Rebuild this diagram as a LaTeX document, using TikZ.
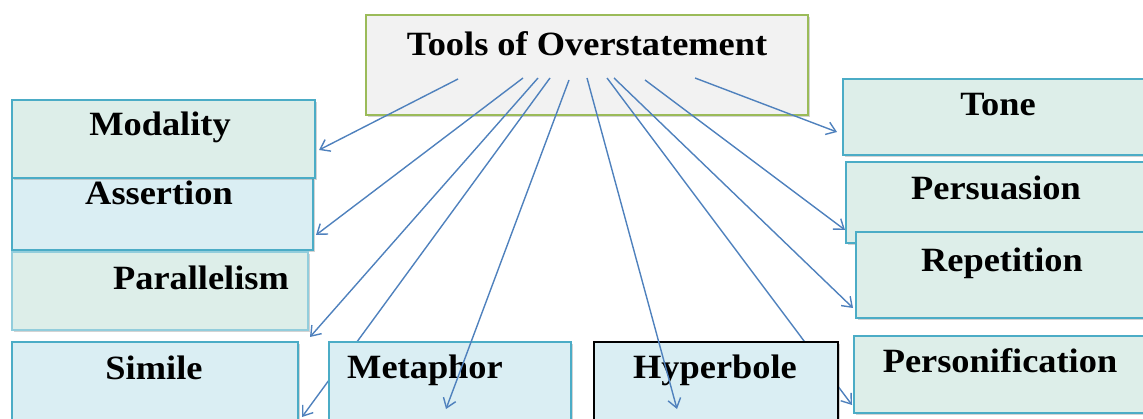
\documentclass[tikz,border=0pt]{standalone}
\usepackage{fontspec}
\setmainfont{Liberation Serif}[FakeStretch=1.07]
\usetikzlibrary{arrows.meta,shadows}
\definecolor{titlefill}{HTML}{F2F2F2}
\definecolor{titledraw}{HTML}{9BBB59}
\definecolor{greenfill}{HTML}{DDEEE9}
\definecolor{bluefill}{HTML}{DAEEF3}
\definecolor{boxdraw}{HTML}{4BACC6}
\definecolor{lightdraw}{HTML}{92CDDC}
\definecolor{arrowcol}{HTML}{4F81BD}
\tikzset{
  basebox/.style={rectangle, anchor=north west, inner sep=0pt, outer sep=0pt, line width=1.4pt,
    drop shadow={opacity=0.35, shadow xshift=1.5pt, shadow yshift=-1.8pt}},
  gbox/.style={basebox, draw=boxdraw, fill=greenfill},
  bbox/.style={basebox, draw=boxdraw, fill=bluefill},
  lbl/.style={font=\fontsize{34}{40}\selectfont\bfseries, inner sep=0pt},
  conn/.style={draw=arrowcol, line width=1.4pt, -{Straight Barb[length=9pt,width=13pt]}},
}
\begin{document}
\begin{tikzpicture}[x=1pt,y=-1pt]
\useasboundingbox (0,0) rectangle (1143,419);
% title
\node[basebox, draw=titledraw, fill=titlefill, minimum width=442pt, minimum height=100pt] (title) at (366,15) {};
\node[lbl] (titleT) at (587,44) {Tools of Overstatement};
% start and end points
\coordinate (s1) at (458,79);
\coordinate (s2) at (523,78);
\coordinate (s3) at (538,78);
\coordinate (s4) at (550,78);
\coordinate (s5) at (569,80);
\coordinate (s6) at (587,78);
\coordinate (s7) at (607,78);
\coordinate (s8) at (614,78);
\coordinate (s9) at (645,80);
\coordinate (s10) at (695,78);
\coordinate (eMod) at (319,150);
\coordinate (eAss) at (316,235);
\coordinate (ePar) at (310,337);
\coordinate (eSim) at (302,417);
\coordinate (eMet) at (446,409);
\coordinate (eHyp) at (677,409);
\coordinate (ePers) at (852,405);
\coordinate (eRep) at (853,308);
\coordinate (ePsu) at (845,230);
\coordinate (eTone) at (837,132);
% connectors hidden behind boxes
\draw[conn] (s4) -- (eSim);
\draw[conn] (s7) -- (ePers);
% left boxes
\node[bbox, minimum width=301pt, minimum height=72pt] (assertion) at (12,178) {};
\node[gbox, minimum width=303pt, minimum height=78pt] (modality) at (12,100) {};
\node[basebox, draw=lightdraw, fill=greenfill, minimum width=296pt, minimum height=78pt] (parallelism) at (12,252) {};
\node[bbox, minimum width=286pt, minimum height=90pt] (simile) at (12,342) {};
\node[bbox, minimum width=242pt, minimum height=90pt] (metaphor) at (329,342) {};
\node[basebox, draw=black, fill=bluefill, minimum width=244pt, minimum height=90pt] (hyperbole) at (594,342) {};
% right boxes
\node[gbox, minimum width=310pt, minimum height=76pt] (tone) at (843,79) {};
\node[gbox, minimum width=310pt, minimum height=81pt] (persuasion) at (846,162) {};
\node[gbox, minimum width=300pt, minimum height=86pt] (repetition) at (856,232) {};
\node[gbox, minimum width=300pt, minimum height=77pt] (personification) at (854,336) {};
% labels
\node[lbl] (modalityT) at (160,127) {Modality};
\node[lbl] (assertionT) at (159,193) {Assertion};
\node[lbl] (parallelismT) at (201,278) {Parallelism};
\node[lbl] (simileT) at (154,368) {Simile};
\node[lbl] (metaphorT) at (425,370) {Metaphor};
\node[lbl] (hyperboleT) at (715,370) {Hyperbole};
\node[lbl] (toneT) at (998,105) {Tone};
\node[lbl] (persuasionT) at (996,188) {Persuasion};
\node[lbl] (repetitionT) at (1002,263) {Repetition};
\node[lbl] (personificationT) at (1000,361) {Personification};
% visible connectors
\draw[conn] (s1) -- (eMod);
\draw[conn] (s2) -- (eAss);
\draw[conn] (s3) -- (ePar);
\draw[conn] (s5) -- (eMet);
\draw[conn] (s6) -- (eHyp);
\draw[conn] (s8) -- (eRep);
\draw[conn] (s9) -- (ePsu);
\draw[conn] (s10) -- (eTone);
\end{tikzpicture}
\end{document}
